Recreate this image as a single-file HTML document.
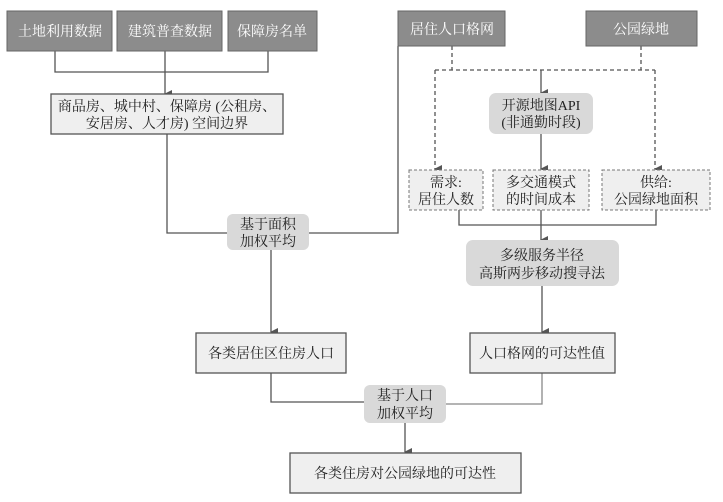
<!DOCTYPE html>
<html><head><meta charset="utf-8"><style>
html,body{margin:0;padding:0;background:#fff;width:723px;height:502px;overflow:hidden}
text{font-family:"Liberation Serif","Noto Serif CJK SC",serif;font-size:14px;fill:#222;text-anchor:middle}
.w{fill:#fff}
</style></head><body>
<svg width="723" height="502" viewBox="0 0 723 502" xmlns="http://www.w3.org/2000/svg">
<defs><marker id="a" markerWidth="8" markerHeight="8" refX="4" refY="7" orient="auto" markerUnits="userSpaceOnUse"><path d="M0,0 L8,0 L4,8 z" fill="#555"/></marker></defs>
<g stroke="#555" stroke-width="1.3" fill="none">
<!-- top three -->
<path d="M55,51 V72 H268 V51"/>
<path d="M165,51 V94" marker-end="url(#a)"/>
<path d="M167,134 V233 H227"/>
<path d="M309,233 H398 V46"/>
<path d="M271,250 V332" marker-end="url(#a)"/>
<!-- dashed -->
<path d="M452,46 V70 M641,46 V70 M435,70 H655" stroke-dasharray="4,3"/>
<path d="M435,70 V169" stroke-dasharray="4,3" marker-end="url(#a)"/>
<path d="M655,70 V169" stroke-dasharray="4,3" marker-end="url(#a)"/>
<path d="M541,70 V93" marker-end="url(#a)"/>
<path d="M541,134 V169" marker-end="url(#a)"/>
<path d="M459,210 V225 H656 V210"/>
<path d="M541,210 V240" marker-end="url(#a)"/>
<path d="M542,286 V332" marker-end="url(#a)"/>
<path d="M271,373 V402 H364"/>
<path d="M542,373 V404 H446" stroke="#888"/>
<path d="M405,423 V452" marker-end="url(#a)"/>
</g>
<!-- dark boxes -->
<g fill="#8c8c8c" stroke="#666" stroke-width="1">
<rect x="7" y="11" width="105" height="40"/>
<rect x="117" y="11" width="105" height="40"/>
<rect x="228" y="11" width="89" height="40"/>
<rect x="398" y="11" width="107" height="35"/>
<rect x="586" y="11" width="111" height="35"/>
</g>
<text class="w" x="60" y="36">土地利用数据</text>
<text class="w" x="170" y="36">建筑普查数据</text>
<text class="w" x="272" y="36">保障房名单</text>
<text class="w" x="452" y="34">居住人口格网</text>
<text class="w" x="641" y="34">公园绿地</text>
<!-- light rect boxes -->
<g fill="#efefef" stroke="#555" stroke-width="1.3">
<rect x="51" y="94" width="232" height="40"/>
<rect x="196" y="333" width="150" height="40"/>
<rect x="470" y="333" width="145" height="40"/>
<rect x="290" y="453" width="231" height="40"/>
</g>
<text x="167" y="111">商品房、城中村、保障房 (公租房、</text>
<text x="167" y="128">安居房、人才房) 空间边界</text>
<text x="271" y="358">各类居住区住房人口</text>
<text x="542" y="358">人口格网的可达性值</text>
<text x="405" y="478">各类住房对公园绿地的可达性</text>
<!-- rounded gray -->
<g fill="#d9d9d9">
<rect x="227" y="214" width="82" height="36" rx="6"/>
<rect x="489" y="93" width="104" height="41" rx="7"/>
<rect x="466" y="240" width="153" height="46" rx="7"/>
<rect x="364" y="385" width="82" height="38" rx="6"/>
</g>
<text x="268" y="229">基于面积</text>
<text x="268" y="246">加权平均</text>
<text x="541" y="110">开源地图API</text>
<text x="541" y="127">(非通勤时段)</text>
<text x="542" y="260">多级服务半径</text>
<text x="542" y="278">高斯两步移动搜寻法</text>
<text x="405" y="400">基于人口</text>
<text x="405" y="418">加权平均</text>
<!-- dashed boxes -->
<g fill="#efefef" stroke="#777" stroke-width="1" stroke-dasharray="3,2">
<rect x="409" y="170" width="74" height="40"/>
<rect x="493" y="170" width="96" height="40"/>
<rect x="602" y="170" width="108" height="40"/>
</g>
<text x="446" y="187">需求:</text>
<text x="446" y="204">居住人数</text>
<text x="541" y="187">多交通模式</text>
<text x="541" y="204">的时间成本</text>
<text x="656" y="187">供给:</text>
<text x="656" y="204">公园绿地面积</text>
</svg>
</body></html>
